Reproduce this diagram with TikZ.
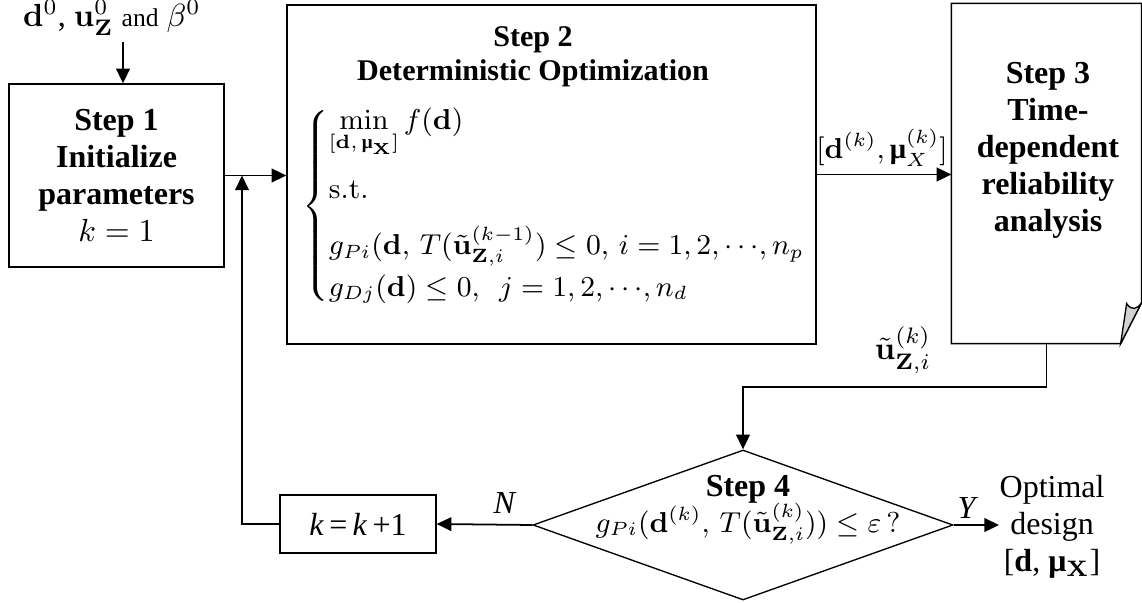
\documentclass[tikz,border=0pt]{standalone}
\usepackage{amsmath}
\usepackage[no-math]{fontspec}
\setmainfont{Liberation Serif}
\usetikzlibrary{arrows.meta,shapes.geometric}
\newcommand{\bmu}{\text{\bfseries μ}}
\begin{document}
\begin{tikzpicture}[x=0.3125pt,y=-0.3125pt,
  every node/.style={font=\fontsize{10}{11.56}\selectfont},
  box/.style={draw, line width=0.42pt, inner sep=0pt},
  arr/.style={-{Triangle[length=4.6pt,width=4.3pt]}, line width=0.55pt},
  ln/.style={line width=0.42pt},
  lbl/.style={inner sep=0pt, align=center},
  bold/.style={font=\bfseries\fontsize{10}{11.56}\selectfont}]
\useasboundingbox (0,0) rectangle (1142,603);

% input
\node[lbl] (in) at (112,18) {$\mathbf{d}^0$, $\mathbf{u}^0_{\mathbf{Z}}$ {\fontsize{8}{9}\selectfont and} $\beta^0$};
\coordinate (a0) at (123,42);

% step 1
\node[box, minimum width=67.19pt, minimum height=57.19pt, align=center, text depth=0pt] (s1) at (116.5,175.5)
  {\textbf{Step 1}\\\textbf{Initialize}\\\textbf{parameters}\\$k=1$};

% step 2
\node[box, minimum width=165.31pt, minimum height=105.94pt] (s2) at (551.5,174.5) {};
\node[lbl, font=\bfseries\fontsize{9.4}{10.6}\selectfont] (t2) at (533,57) {Step 2\\Deterministic Optimization};
\node[anchor=west, inner sep=0pt, font=\fontsize{9}{10.4}\selectfont] (f2) at (302,206) {$\renewcommand\arraystretch{1}\left\{\begin{array}{@{}l@{}}
\min\limits_{[\mathbf{d},\,\bmu_{\mathbf{X}}]} f(\mathbf{d})\\\noalign{\vskip5.5pt}
\mathrm{s.t.}\\\noalign{\vskip5.5pt}
g_{Pi}(\mathbf{d},\,T(\tilde{\mathbf{u}}^{(k-1)}_{\mathbf{Z},i})\le 0,\,i=1,2,{\cdots},n_p\\\noalign{\vskip1.9pt}
g_{Dj}(\mathbf{d})\le 0,\ \ j=1,2,{\cdots},n_d
\end{array}\right.$};

% step 3 (document shape)
\node[inner sep=0pt, minimum width=59.06pt, minimum height=105.94pt] (s3) at (1046.5,173.5) {};
\draw[ln] (s3.north west) -- (s3.north east) -- ([yshift=12.81pt]s3.south east)
  -- ([xshift=-6.56pt]s3.south east) -- (s3.south west) -- cycle;
\draw[ln, fill=gray!35] ([xshift=-6.56pt]s3.south east) -- ([xshift=-4.69pt,yshift=12.5pt]s3.south east)
  .. controls ([xshift=-3.1pt,yshift=10.3pt]s3.south east) and ([xshift=-1.56pt,yshift=10.6pt]s3.south east)
  .. ([yshift=12.81pt]s3.south east) -- cycle;
\node[lbl, bold] (t3) at (1048,150) {Step 3\\Time-\\dependent\\reliability\\analysis};

% step 4
\node[diamond, draw, line width=0.42pt, minimum width=131.25pt, minimum height=46.875pt, inner sep=0pt] (d4) at (743,525) {};
\node[lbl] (t4) at (748,510) {\textbf{Step 4}\\[-0.5pt]{\fontsize{9}{10.4}\selectfont$g_{Pi}(\mathbf{d}^{(k)},\,T(\tilde{\mathbf{u}}^{(k)}_{\mathbf{Z},i}))\le\varepsilon\,?$}};

% k = k + 1
\node[box, minimum width=48.75pt, minimum height=18.125pt] (kb) at (358,524) {\textit{k}\,=\,\textit{k}\,+1};

% output
\node[lbl, anchor=west] (opt) at (999,527) {Optimal\\design\\{[}\textbf{d}, \textbf{μ}$_{\mathbf{X}}${]}};

% connectors
\draw[arr] (a0) -- (a0 |- s1.north);
\draw[arr] (s1.east) -- (s1.east -| s2.west);
\draw[arr] (s2.east) -- (s2.east -| s3.west);
\node[lbl, font=\fontsize{9}{10}\selectfont] (l23) at (882,148) {$[\mathbf{d}^{(k)},\bmu_X^{(k)}]$};
\coordinate (c1) at (743,387);
\draw[arr] (s3.south) |- (c1) -- (d4.north);
\node[lbl] (l34) at (903,350) {$\tilde{\mathbf{u}}^{(k)}_{\mathbf{Z},i}$};
\draw[arr] (d4.west) -- (kb.east);
\node[lbl] (lN) at (505,503) {\textit{N}};
\coordinate (c2) at (242,175.5);
\draw[arr] (kb.west) -| (c2);
\draw[arr] (d4.east) -- (d4.east -| opt.west);
\node[lbl] (lY) at (968,508) {\textit{Y}};
\end{tikzpicture}
\end{document}
